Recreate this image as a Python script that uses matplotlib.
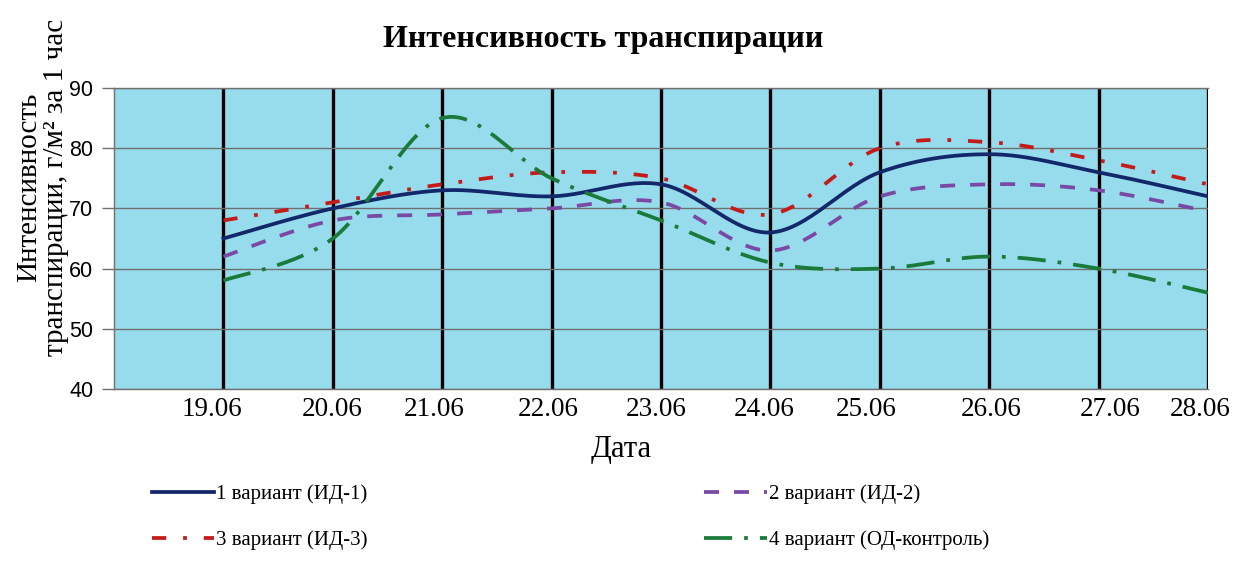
import numpy as np
import matplotlib
matplotlib.use("Agg")
import matplotlib.pyplot as plt
from matplotlib.transforms import ScaledTranslation

# Daily transpiration intensity, g/m² per hour
dates = ["19.06", "20.06", "21.06", "22.06", "23.06", "24.06", "25.06", "26.06", "27.06", "28.06"]
var1 = [65, 70, 73, 72, 74, 66, 76, 79, 76, 72]
var2 = [62, 68, 69, 70, 71, 63, 72, 74, 73, 69.5]
var3 = [68, 71, 74, 76, 75, 69, 80, 81, 78, 74]
var4 = [58, 65, 85, 75, 68, 61, 60, 62, 60, 56]
labels = ["1 вариант (ИД-1)", "2 вариант (ИД-2)", "3 вариант (ИД-3)", "4 вариант (ОД-контроль)"]
y_ticks = [40, 50, 60, 70, 80, 90]

SERIF = ["Liberation Serif", "DejaVu Serif"]
SANS = ["Liberation Sans", "DejaVu Sans"]


def smooth(xs, ys, n=30):
    """Bezier smoothing through every point (Catmull-Rom style control points)."""
    xs = np.asarray(xs, float)
    ys = np.asarray(ys, float)
    px = np.concatenate([[xs[0]], xs, [xs[-1]]])
    py = np.concatenate([[ys[0]], ys, [ys[-1]]])
    out_x, out_y = [], []
    t = np.linspace(0, 1, n)
    for i in range(1, len(px) - 2):
        p0 = np.array([px[i], py[i]])
        p3 = np.array([px[i + 1], py[i + 1]])
        c1 = p0 + (np.array([px[i + 1], py[i + 1]]) - np.array([px[i - 1], py[i - 1]])) / 6
        c2 = p3 - (np.array([px[i + 2], py[i + 2]]) - np.array([px[i], py[i]])) / 6
        b = ((1 - t) ** 3)[:, None] * p0 + (3 * (1 - t) ** 2 * t)[:, None] * c1 \
            + (3 * (1 - t) * t ** 2)[:, None] * c2 + (t ** 3)[:, None] * p3
        out_x.extend(b[:, 0])
        out_y.extend(b[:, 1])
    return np.array(out_x), np.array(out_y)


fig = plt.figure(figsize=(12.37, 5.62), dpi=100)
ax = fig.add_axes([114 / 1237, 1 - 389 / 562, (1208 - 114) / 1237, (389 - 88) / 562])
ax.set_facecolor("#97dcec")

x = np.arange(1, len(dates) + 1)

ax.set_xlim(0, len(dates))
ax.set_ylim(40, 90)
ax.set_yticks(y_ticks)
ax.yaxis.grid(True, color="#707070", lw=1.0)
for xi in x:
    ax.axvline(xi, color="black", lw=2.4, zorder=1.5)

styles = [
    dict(color="#13286a", lw=2.7, ls="-"),
    dict(color="#7a49a4", lw=2.7, ls=(0, (4, 4))),
    dict(color="#c41a1a", lw=2.7, ls=(0, (3.8, 4.5, 1.0, 4.5))),
    dict(color="#1a7a3a", lw=2.7, ls=(0, (7.5, 3.2, 1.0, 3.2))),
]
handles = []
for ys, st, lab in zip([var1, var2, var3, var4], styles, labels):
    sx, sy = smooth(x, ys)
    h, = ax.plot(sx, sy, label=lab, zorder=3, **st)
    handles.append(h)

ax.set_xticks(x)
ax.set_xticklabels(dates, fontsize=19.5, family=SERIF)
ax.tick_params(axis="x", length=0, pad=6)
ax.tick_params(axis="y", length=9, color="#707070", width=1, labelsize=15.5, pad=6)
for t in ax.get_yticklabels():
    t.set_family(SANS)

# small horizontal nudges for the date labels
for lab, dx in zip(ax.get_xticklabels(), [-11, -1, -8, -3, -5, -6, -14, 2, 12, -8]):
    lab.set_transform(lab.get_transform() + ScaledTranslation(dx / 100, 0, fig.dpi_scale_trans))

for side in ["top", "right", "left", "bottom"]:
    ax.spines[side].set_color("#707070")
    ax.spines[side].set_linewidth(1)
ax.spines["right"].set_visible(False)

fig.text(603 / 1237, 1 - 40 / 562, "Интенсивность транспирации", ha="center", va="center",
         fontsize=23, fontweight="bold", family=SERIF)
fig.text(42.5 / 1237, 1 - 187 / 562, "Интенсивность\nтранспирации, г/м² за 1 час", ha="center",
         va="center", rotation=90, fontsize=21, family=SERIF, linespacing=1.08)
fig.text(621 / 1237, 1 - 449 / 562, "Дата", ha="center", va="center", fontsize=22, family=SERIF)

leg = fig.legend([handles[0], handles[2], handles[1], handles[3]],
                 [labels[0], labels[2], labels[1], labels[3]],
                 ncol=2, loc="upper left", bbox_to_anchor=(133 / 1237, 1 - 466 / 562),
                 frameon=False, prop={"family": SERIF, "size": 15}, handlelength=3.0,
                 handletextpad=0.1, columnspacing=16.15, labelspacing=1.25)

fig.savefig("out.png", dpi=100)
